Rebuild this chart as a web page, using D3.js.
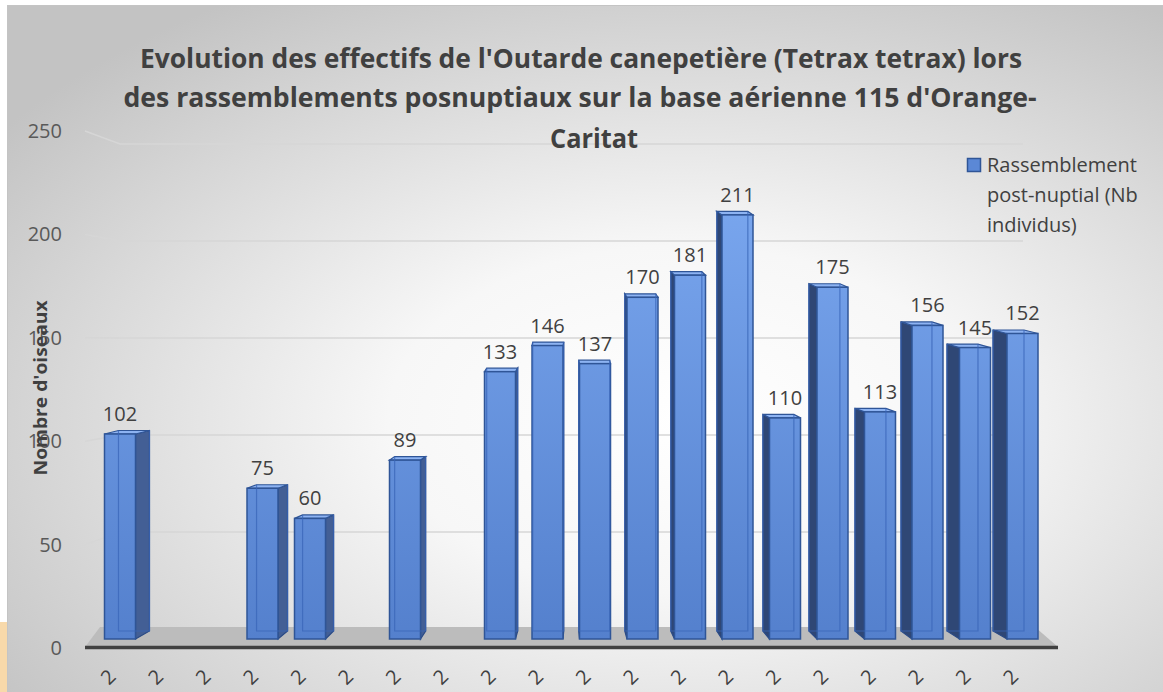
<!DOCTYPE html>
<html>
<head>
<meta charset="utf-8">
<script src="https://cdn.jsdelivr.net/npm/d3@7"></script>
<style>
  body { margin: 0; background: #fff; }
  svg { display: block; }
</style>
</head>
<body>
<svg id="chart" width="1163" height="692"></svg>
<script>
// data (empty years have no bar)
const categories = ['2', '2', '2', '2', '2', '2', '2', '2', '2', '2',
  '2', '2', '2', '2', '2', '2', '2', '2', '2', '2'];
const values = [102, null, null, 75, 60, null, 89, null, 133, 146,
  137, 170, 181, 211, 110, 175, 113, 156, 145, 152];
const yTicks = [0, 50, 100, 150, 200, 250];
const titleLines = [
  "Evolution des effectifs de l'Outarde canepetière (Tetrax tetrax) lors",
  "des rassemblements posnuptiaux sur la base aérienne 115 d'Orange-",
  'Caritat'
];
const legendLines = ['Rassemblement', 'post-nuptial (Nb', 'individus)'];
const yTitle = "Nombre d'oiseaux";

const svg = d3.select('#chart');
const defs = svg.append('defs');
const font = "'Open Sans', 'Noto Sans', sans-serif";

// background
const bg = defs.append('radialGradient').attr('id', 'bg')
  .attr('cx', '58%').attr('cy', '60%').attr('r', '72%');
bg.append('stop').attr('offset', '0%').attr('stop-color', '#ffffff');
bg.append('stop').attr('offset', '35%').attr('stop-color', '#f7f7f7');
bg.append('stop').attr('offset', '100%').attr('stop-color', '#c3c3c3');

const front = defs.append('linearGradient').attr('id', 'front')
  .attr('gradientUnits', 'userSpaceOnUse')
  .attr('x1', 0).attr('y1', 200).attr('x2', 0).attr('y2', 640);
front.append('stop').attr('offset', '0%').attr('stop-color', '#79a6ee');
front.append('stop').attr('offset', '100%').attr('stop-color', '#5480cd');

svg.append('rect').attr('x', 0).attr('y', 622).attr('width', 7).attr('height', 70)
  .attr('fill', '#f8d9aa');
svg.append('rect').attr('x', 7.5).attr('y', 5.5).attr('width', 1160).attr('height', 690)
  .attr('fill', 'url(#bg)').attr('stroke', '#c4c4c4');

// scales: axis plane, bar plane and back wall
const x = d3.scalePoint().domain(d3.range(categories.length)).range([120, 1022.5]);
const yAxis = d3.scaleLinear().domain([0, 250]).range([648, 131]);
const yBar = d3.scaleLinear().domain([0, 250]).range([639, 136.5]);
const yBack = d3.scaleLinear().domain([0, 250]).range([629, 144]);

const barW = 31;
const vpX = 571, k = 0.031;
const dyTop = -3.5, dyBot = -8;
const depth = xc => (vpX - xc) * k;

// gridlines (side wall + back wall)
svg.append('g').selectAll('path')
  .data(yTicks.filter(v => v > 0))
  .join('path')
  .attr('d', v => 'M85,' + yAxis(v) + 'L120,' + yBack(v) + 'L1023,' + yBack(v))
  .attr('fill', 'none')
  .attr('stroke', '#d6d6d6')
  .attr('stroke-width', 1.4);

// floor
svg.append('path')
  .attr('d', 'M85,' + (yAxis(0) - 1) + 'L100,' + (yBack(0) - 2) + 'L1035,' + (yBack(0) - 2) +
    'L1058,' + (yAxis(0) - 1) + 'Z')
  .attr('fill', '#bcbcbc');
svg.append('line')
  .attr('x1', 85).attr('x2', 1058)
  .attr('y1', yAxis(0) - 0.5).attr('y2', yAxis(0) - 0.5)
  .attr('stroke', '#404040').attr('stroke-width', 3.5);

// y tick labels
svg.append('g').selectAll('text')
  .data(yTicks)
  .join('text')
  .attr('x', 62)
  .attr('y', v => yAxis(v))
  .attr('dy', '0.35em')
  .attr('text-anchor', 'end')
  .style('font-family', font)
  .style('font-size', '20px')
  .attr('fill', '#595959')
  .text(v => v);

// bars
const bars = values.map((v, i) => ({ v, i })).filter(d => d.v != null);
const g = svg.append('g');

bars.forEach(d => {
  const xc = x(d.i);
  const xl = xc - barW / 2, xr = xc + barW / 2;
  const yt = yBar(d.v), yb = yBar(0);
  const dx = depth(xc);
  const bar = g.append('g');
  const sx = dx > 0 ? xr : xl;

  // side face
  bar.append('path')
    .attr('d', 'M' + sx + ',' + yt + 'L' + (sx + dx) + ',' + (yt + dyTop) +
      'L' + (sx + dx) + ',' + (yb + dyBot) + 'L' + sx + ',' + yb + 'Z')
    .attr('fill', dx > 0 ? '#435f95' : '#2f4775')
    .attr('stroke', '#2a4a85').attr('stroke-width', 1.2);

  // top face
  bar.append('path')
    .attr('d', 'M' + xl + ',' + yt + 'L' + xr + ',' + yt + 'L' + (xr + dx) + ',' + (yt + dyTop) +
      'L' + (xl + dx) + ',' + (yt + dyTop) + 'Z')
    .attr('fill', '#8db3f2')
    .attr('stroke', '#2f5597').attr('stroke-width', 1.2);

  // front face
  bar.append('rect')
    .attr('x', xl).attr('y', yt)
    .attr('width', barW).attr('height', yb - yt)
    .attr('fill', 'url(#front)')
    .attr('stroke', '#2f5597').attr('stroke-width', 1.5);

  // back edges seen through the glassy front
  bar.append('path')
    .attr('d', 'M' + (xl + dx) + ',' + (yt + dyTop) + 'L' + (xl + dx) + ',' + (yb + dyBot) +
      'L' + (xr + dx) + ',' + (yb + dyBot) + 'L' + (xr + dx) + ',' + (yt + dyTop))
    .attr('fill', 'none')
    .attr('stroke', '#3a66b8').attr('stroke-opacity', 0.75).attr('stroke-width', 1.2);

  // value label
  bar.append('text')
    .attr('x', xc)
    .attr('y', yt - 13)
    .attr('text-anchor', 'middle')
    .style('font-family', font)
    .style('font-size', '20px')
    .attr('fill', '#404040')
    .text(d.v);
});

// x labels (cut off in the original)
svg.append('g').selectAll('text')
  .data(categories)
  .join('text')
  .attr('transform', (c, i) => 'translate(' + (x(i) - 12) + ',677) rotate(-45)')
  .attr('text-anchor', 'middle')
  .attr('dy', '0.35em')
  .style('font-family', font)
  .style('font-size', '20px')
  .attr('fill', '#404040')
  .text(c => c);

// axis title
svg.append('text')
  .attr('transform', 'translate(47,388) rotate(-90)')
  .attr('text-anchor', 'middle')
  .attr('textLength', 175)
  .attr('lengthAdjust', 'spacingAndGlyphs')
  .style('font-family', font)
  .style('font-size', '18px')
  .style('font-weight', 'bold')
  .attr('fill', '#404040')
  .text(yTitle);

// title
const titleX = [581, 580, 594];
const titleLen = [882, 913, 88];
const titleY = [68, 107, 148];
svg.append('g').selectAll('text')
  .data(titleLines)
  .join('text')
  .attr('x', (t, i) => titleX[i])
  .attr('y', (t, i) => titleY[i])
  .attr('text-anchor', 'middle')
  .attr('textLength', (t, i) => titleLen[i])
  .attr('lengthAdjust', 'spacingAndGlyphs')
  .style('font-family', font)
  .style('font-size', '26px')
  .style('font-weight', 'bold')
  .attr('fill', '#404040')
  .text(t => t);

// legend
svg.append('rect')
  .attr('x', 967.5).attr('y', 158.5).attr('width', 13).attr('height', 13)
  .attr('fill', '#5b88d6').attr('stroke', '#2f5597').attr('stroke-width', 1.5);
svg.append('g').selectAll('text')
  .data(legendLines)
  .join('text')
  .attr('x', 987)
  .attr('y', (t, i) => 172 + i * 30)
  .style('font-family', font)
  .style('font-size', '20px')
  .attr('fill', '#404040')
  .text(t => t);
</script>
</body>
</html>
